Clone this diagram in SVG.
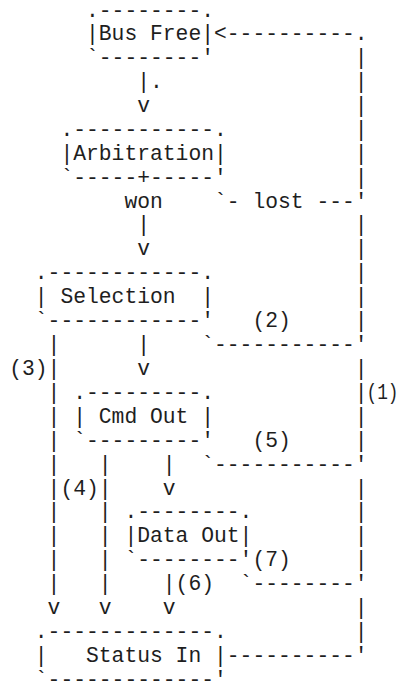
<svg xmlns="http://www.w3.org/2000/svg" width="404" height="681" viewBox="0 0 404 681" xml:space="preserve">
<style>
text{font-family:"Liberation Mono","Courier New",monospace;font-size:21.333px;fill:#1e1e1e;white-space:pre}
</style>
<rect width="404" height="681" fill="#ffffff"/>
<g id="bus-free">
<text x="86" y="16.6">.--------.</text>
<text x="86" y="40">|Bus Free|</text>
<text x="86" y="63.9">`--------'</text>
</g>
<g id="arbitration">
<text x="60.4" y="135.7">.-----------.</text>
<text x="60.4" y="159.6">|Arbitration|</text>
<text x="60.4" y="183.5">`-----+-----'</text>
</g>
<g id="selection">
<text x="34.8" y="279.2">.------------.</text>
<text x="34.8" y="303.1">| Selection  |</text>
<text x="34.8" y="327.1">`------------'</text>
</g>
<g id="cmd-out">
<text x="73.2" y="398.8">.---------.</text>
<text x="73.2" y="422.7">| Cmd Out |</text>
<text x="73.2" y="446.7">`---------'</text>
</g>
<g id="data-out">
<text x="124.4" y="518.4">.--------.</text>
<text x="124.4" y="542.3">|Data Out|</text>
<text x="124.4" y="566.3">`--------'</text>
</g>
<g id="status-in">
<text x="34.8" y="638">.-------------.</text>
<text x="34.8" y="661.9">|   Status In |</text>
<text x="34.8" y="685.9">`-------------'</text>
</g>
<g id="connectors">
<text x="214" y="40">&lt;----------.</text>
<text x="354.8" y="63.9">|</text>
<text x="137.2" y="87.9">|.</text>
<text x="354.8" y="87.9">|</text>
<text x="137.2" y="111.8">v</text>
<text x="354.8" y="111.8">|</text>
<text x="354.8" y="135.7">|</text>
<text x="354.8" y="159.6">|</text>
<text x="354.8" y="183.5">|</text>
<text x="124.4" y="207.5">won</text>
<text x="214" y="207.5">`- lost ---'</text>
<text x="137.2" y="231.4">|</text>
<text x="354.8" y="231.4">|</text>
<text x="137.2" y="255.3">v</text>
<text x="354.8" y="255.3">|</text>
<text x="354.8" y="279.2">|</text>
<text x="354.8" y="303.1">|</text>
<text x="252.4" y="327.1">(2)</text>
<text x="354.8" y="327.1">|</text>
<text x="47.6" y="351">|</text>
<text x="137.2" y="351">|</text>
<text x="201.2" y="351">`-----------'</text>
<text x="9.2" y="374.9">(3)|</text>
<text x="137.2" y="374.9">v</text>
<text x="354.8" y="374.9">|</text>
<text x="47.6" y="398.8">|</text>
<text x="354.8" y="398.8">|</text>
<text x="366.5" y="398.8" textLength="32" lengthAdjust="spacingAndGlyphs">(1)</text>
<text x="47.6" y="422.7">|</text>
<text x="354.8" y="422.7">|</text>
<text x="47.6" y="446.7">|</text>
<text x="252.4" y="446.7">(5)</text>
<text x="354.8" y="446.7">|</text>
<text x="47.6" y="470.6">|</text>
<text x="98.8" y="470.6">|</text>
<text x="162.8" y="470.6">|</text>
<text x="201.2" y="470.6">`-----------'</text>
<text x="47.6" y="494.5">|(4)|</text>
<text x="162.8" y="494.5">v</text>
<text x="354.8" y="494.5">|</text>
<text x="47.6" y="518.4">|</text>
<text x="98.8" y="518.4">|</text>
<text x="354.8" y="518.4">|</text>
<text x="47.6" y="542.3">|</text>
<text x="98.8" y="542.3">|</text>
<text x="354.8" y="542.3">|</text>
<text x="47.6" y="566.3">|</text>
<text x="98.8" y="566.3">|</text>
<text x="252.4" y="566.3">(7)</text>
<text x="354.8" y="566.3">|</text>
<text x="47.6" y="590.2">|</text>
<text x="98.8" y="590.2">|</text>
<text x="162.8" y="590.2">|(6)</text>
<text x="239.6" y="590.2">`--------'</text>
<text x="47.6" y="614.1">v</text>
<text x="98.8" y="614.1">v</text>
<text x="162.8" y="614.1">v</text>
<text x="354.8" y="614.1">|</text>
<text x="354.8" y="638">|</text>
<text x="226.8" y="661.9">----------'</text>
</g>
</svg>
